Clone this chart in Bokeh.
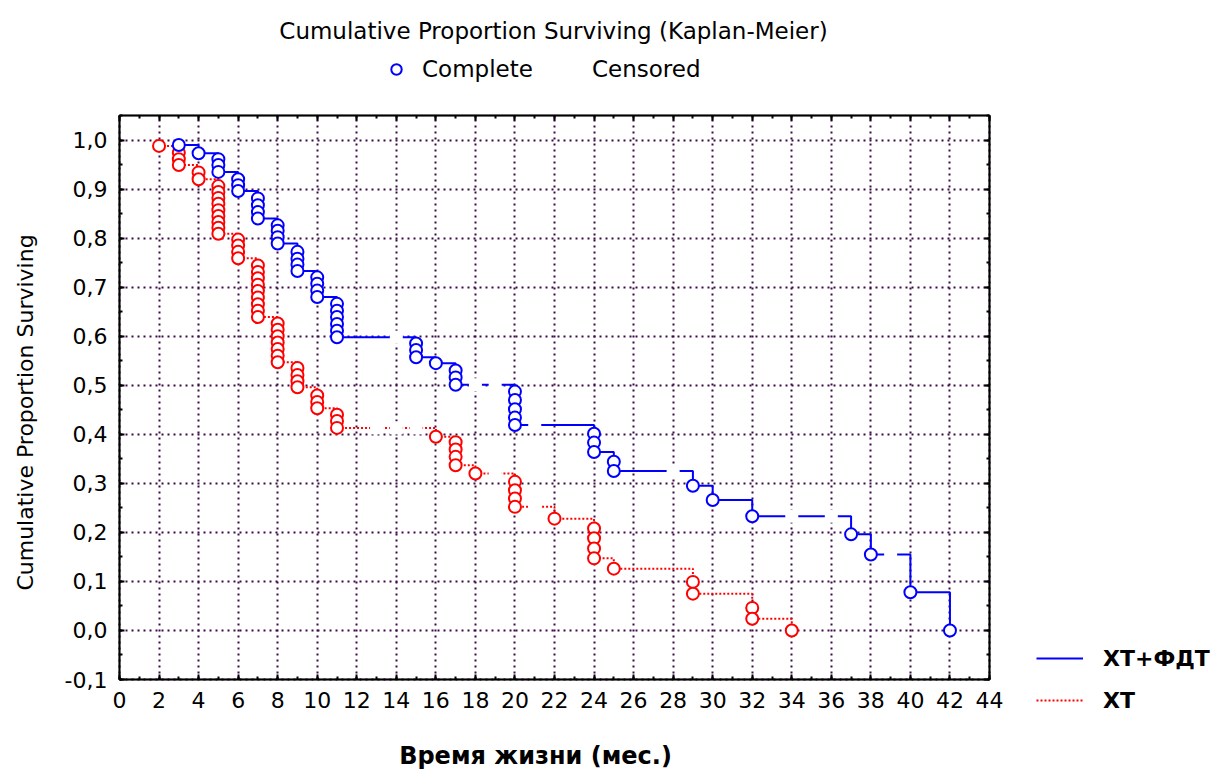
import math

from bokeh.embed import file_html
from bokeh.models import (BoxAnnotation, CustomJSTickFormatter, FixedTicker,
                          Grid, Label, Legend, LegendItem, LinearAxis, Range1d)
from bokeh.plotting import figure
from bokeh.resources import INLINE

# ---------------------------------------------------------------------------
# Kaplan-Meier estimates: one entry per death (complete observation)
# ---------------------------------------------------------------------------
# ХТ+ФДТ (chemotherapy + photodynamic therapy)
pdt_time = [3, 4, 5, 5, 5, 6, 6, 6, 7, 7, 7, 7, 8, 8, 8, 8, 9, 9, 9, 9,
            10, 10, 10, 10, 11, 11, 11, 11, 11, 11, 15, 15, 15, 16, 17, 17, 17,
            20, 20, 20, 20, 20, 24, 24, 24, 25, 25, 29, 30, 32, 37, 38, 40, 42]
pdt_surv = [0.990, 0.973, 0.961, 0.949, 0.935, 0.920, 0.908, 0.896,
            0.881, 0.867, 0.853, 0.840, 0.826, 0.815, 0.802, 0.789,
            0.772, 0.758, 0.746, 0.733, 0.720, 0.707, 0.693, 0.680,
            0.666, 0.652, 0.639, 0.625, 0.611, 0.598, 0.585, 0.572, 0.557,
            0.545, 0.530, 0.516, 0.501, 0.487, 0.470, 0.451, 0.434, 0.419,
            0.401, 0.383, 0.364, 0.344, 0.325, 0.295, 0.266, 0.233,
            0.196, 0.155, 0.078, 0.000]
# censored follow-up times (months)
pdt_censored = [14, 18, 19, 21, 28, 34, 36, 39]

# ХТ (chemotherapy alone)
ct_time = [2, 3, 3, 3, 4, 4, 5, 5, 5, 5, 5, 5, 5, 5, 5, 6, 6, 6, 6,
           7, 7, 7, 7, 7, 7, 7, 7, 7, 8, 8, 8, 8, 8, 8, 8, 9, 9, 9, 9,
           10, 10, 10, 11, 11, 11, 16, 17, 17, 17, 17, 18, 20, 20, 20, 20,
           22, 24, 24, 24, 24, 25, 29, 29, 32, 32, 34]
ct_surv = [0.988, 0.974, 0.961, 0.949, 0.934, 0.920,
           0.906, 0.894, 0.882, 0.870, 0.857, 0.845, 0.833, 0.821, 0.809,
           0.797, 0.785, 0.772, 0.759,
           0.744, 0.731, 0.718, 0.705, 0.692, 0.679, 0.665, 0.652, 0.639,
           0.626, 0.613, 0.600, 0.587, 0.574, 0.560, 0.547,
           0.535, 0.521, 0.508, 0.496, 0.479, 0.466, 0.453,
           0.440, 0.427, 0.413, 0.395, 0.384, 0.369, 0.354, 0.337, 0.320,
           0.303, 0.286, 0.269, 0.252, 0.228, 0.208, 0.188, 0.167, 0.147,
           0.126, 0.099, 0.075, 0.046, 0.024, 0.000]
ct_censored = [13, 14, 15, 19, 21]

series_names = ["ХТ+ФДТ", "ХТ"]
x_ticks = list(range(0, 45, 2))
y_ticks = [-0.1, 0.0, 0.1, 0.2, 0.3, 0.4, 0.5, 0.6, 0.7, 0.8, 0.9, 1.0]

# ---------------------------------------------------------------------------
# helpers
# ---------------------------------------------------------------------------
def step_points(times, surv):
    """Last estimate at each distinct event time (for the step curve)."""
    xs, ys = [], []
    for t, s in zip(times, surv):
        if xs and xs[-1] == t:
            ys[-1] = s
        else:
            xs.append(t)
            ys.append(s)
    return xs, ys


def surv_at(times, surv, t):
    """Value of the step function just after time t."""
    out = 1.0
    for ti, si in zip(times, surv):
        if ti <= t:
            out = si
    return out


# canvas and plot-box geometry (pixels); the box spans X0..X1, Y0..Y1
W, H = 1211, 770
BL, BR, BT, BB = 119, 989, 115, 679
X0, X1 = 0, 44
Y0, Y1 = -0.1, 1.05
SX = (X1 - X0) / (BR - BL)
SY = (Y1 - Y0) / (BB - BT)


def dx(px):
    return X0 + (px - BL) * SX


def dy(py):
    return Y0 + (BB - py) * SY


FONT = "DejaVu Sans"
BLUE = "#0000ff"
RED = "#ff0000"
GRID = "#3c0a46"

# the frame covers the whole canvas; axes are pinned to the box edges
p = figure(width=W, height=H,
           x_range=Range1d(dx(0), dx(W)), y_range=Range1d(dy(H), dy(0)),
           x_axis_location=None, y_axis_location=None,
           output_backend="svg", toolbar_location=None, min_border=0)
p.background_fill_color = "white"
p.border_fill_color = "white"
p.outline_line_color = None
p.grid.visible = False

x_ticker = FixedTicker(ticks=x_ticks, minor_ticks=list(range(0, 45)))
y_ticker = FixedTicker(ticks=y_ticks,
                       minor_ticks=[round(-0.1 + 0.05 * i, 2) for i in range(24)])

# dotted grid restricted to the box
p.add_layout(Grid(dimension=0, ticker=x_ticker, bounds=(X0, X1),
                  cross_bounds=(Y0, Y1), grid_line_color=GRID,
                  grid_line_dash="2 4", grid_line_width=2))
p.add_layout(Grid(dimension=1, ticker=y_ticker, bounds=(Y0, Y1),
                  cross_bounds=(X0, X1), grid_line_color=GRID,
                  grid_line_dash="2 4", grid_line_width=2))

ax_b = LinearAxis(ticker=x_ticker, fixed_location=Y0, bounds=(X0, X1))
ax_t = LinearAxis(ticker=x_ticker, fixed_location=Y1, bounds=(X0, X1))
ax_l = LinearAxis(ticker=y_ticker, fixed_location=X0, bounds=(Y0, Y1),
                  formatter=CustomJSTickFormatter(
                      code="return tick.toFixed(1).replace('.', ',');"))
ax_r = LinearAxis(ticker=y_ticker, fixed_location=X1, bounds=(Y0, Y1))
p.add_layout(ax_b, "below")
p.add_layout(ax_t, "above")
p.add_layout(ax_l, "left")
p.add_layout(ax_r, "right")

for ax in (ax_b, ax_t, ax_l, ax_r):
    ax.axis_line_color = "black"
    ax.axis_line_width = 2
    ax.major_tick_line_color = "black"
    ax.major_tick_line_width = 2
    ax.major_tick_in = 5
    ax.major_tick_out = 0
    ax.minor_tick_line_color = "black"
    ax.minor_tick_line_width = 2
    ax.minor_tick_in = 3
    ax.minor_tick_out = 0
    ax.major_label_text_font = FONT
    ax.major_label_text_font_size = "22px"
    ax.major_label_text_color = "black"
    ax.major_label_standoff = 12
for ax in (ax_t, ax_r):
    ax.major_label_text_color = None

p.add_layout(BoxAnnotation(left=X0, right=X1, bottom=Y0, top=Y1,
                           fill_alpha=0, line_color="black", line_width=2))

# ---------------------------------------------------------------------------
# curves
# ---------------------------------------------------------------------------
ct_sx, ct_sy = step_points(ct_time, ct_surv)
pdt_sx, pdt_sy = step_points(pdt_time, pdt_surv)

ct_step = p.step(ct_sx, ct_sy, mode="after", line_color=RED, line_width=2,
                 line_dash="2 2")
pdt_step = p.step(pdt_sx, pdt_sy, mode="after", line_color=BLUE, line_width=2)

# censored observations: white marks that break the curve
ct_cy = [surv_at(ct_time, ct_surv, t) for t in ct_censored]
pdt_cy = [surv_at(pdt_time, pdt_surv, t) for t in pdt_censored]
p.scatter(ct_censored, ct_cy, marker="square", size=13,
          fill_color="white", line_color=None)
cens_r = p.scatter(pdt_censored, pdt_cy, marker="square", size=13,
                   fill_color="white", line_color=None)

# complete observations
p.scatter(ct_time, ct_surv, marker="circle", size=12, fill_color="white",
          line_color=RED, line_width=2)
comp_r = p.scatter(pdt_time, pdt_surv, marker="circle", size=12,
                   fill_color="white", line_color=BLUE, line_width=2)

# ---------------------------------------------------------------------------
# texts and legends
# ---------------------------------------------------------------------------
p.add_layout(Label(x=dx(553), y=dy(30),
                   text="Cumulative Proportion Surviving (Kaplan-Meier)",
                   text_font=FONT, text_font_size="23px", text_color="black",
                   text_align="center", text_baseline="middle"))
p.add_layout(Label(x=dx(25), y=dy(412), text="Cumulative Proportion Surviving",
                   angle=math.pi / 2, text_font=FONT, text_color="black",
                   text_font_size="22px", text_align="center",
                   text_baseline="middle"))
p.add_layout(Label(x=dx(535), y=dy(755), text="Время жизни (мес.)",
                   text_font=FONT, text_font_size="24px", text_color="black",
                   text_font_style="bold", text_align="center",
                   text_baseline="middle"))

top_legend = Legend(
    items=[LegendItem(label="Complete", renderers=[comp_r]),
           LegendItem(label="Censored", renderers=[cens_r])],
    orientation="horizontal", location=(383, H - 83),
    glyph_width=26, glyph_height=28, label_height=28, label_width=131,
    label_standoff=13, spacing=0, padding=0, margin=0,
    label_text_font=FONT, label_text_font_size="23px",
    label_text_color="black",
    background_fill_alpha=0, border_line_alpha=0)
p.add_layout(top_legend)

side_legend = Legend(
    items=[LegendItem(label=series_names[0], renderers=[pdt_step]),
           LegendItem(label=series_names[1], renderers=[ct_step])],
    orientation="vertical", location=(1036, H - 714),
    glyph_width=47, glyph_height=28, label_height=28, spacing=14,
    label_standoff=20, padding=0, margin=0,
    label_text_font=FONT, label_text_font_size="22px",
    label_text_font_style="bold", label_text_color="black",
    background_fill_alpha=0, border_line_alpha=0)
p.add_layout(side_legend)

open("out.html", "w").write(file_html(p, INLINE))
